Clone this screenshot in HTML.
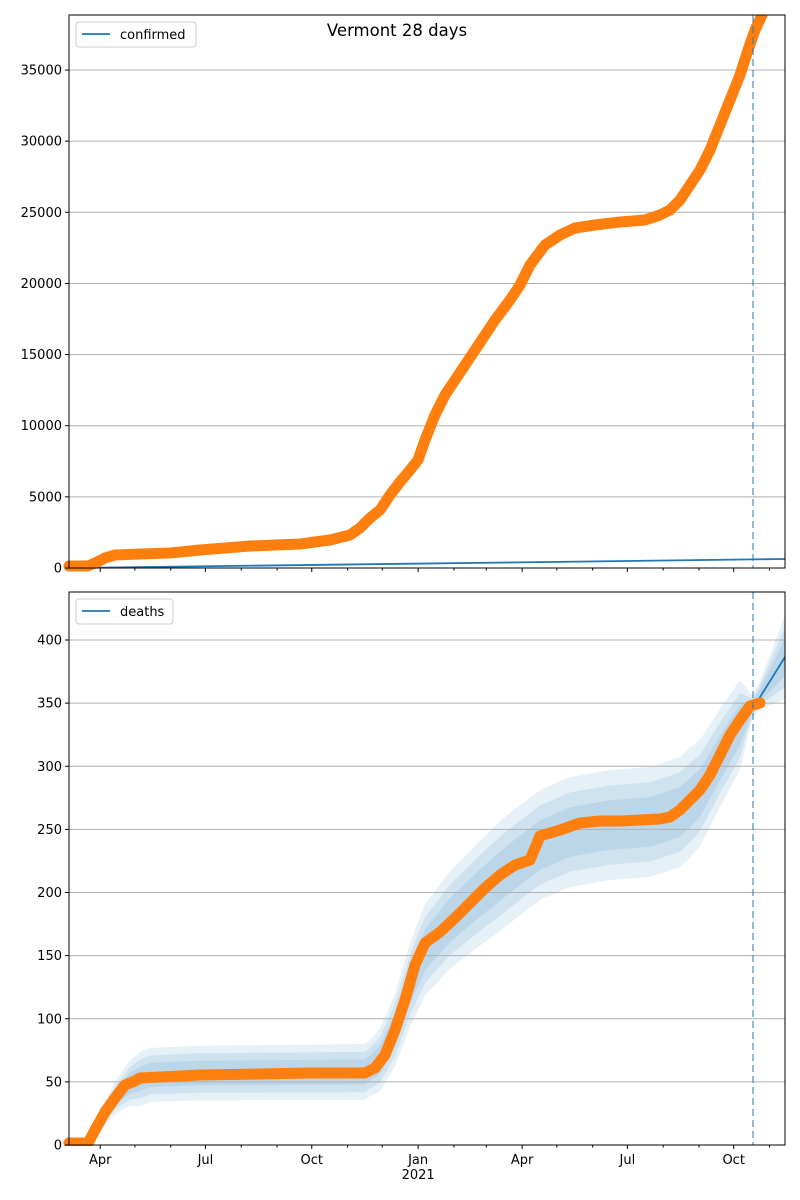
<!DOCTYPE html>
<html><head><meta charset="utf-8"><style>
html,body{margin:0;padding:0;background:#fff;}
svg{display:block;font-family:"DejaVu Sans","Liberation Sans",sans-serif;}
</style></head><body>
<svg id="s" width="800" height="1200" xmlns="http://www.w3.org/2000/svg">
<rect width="800" height="1200" fill="#fff"/>
<g id="g"></g>
<text x="397" y="36" font-size="16.5" text-anchor="middle">Vermont 28 days</text>
</svg>
<script>
const NS="http://www.w3.org/2000/svg";const g=document.getElementById('g');
function el(t,a,txt){const e=document.createElementNS(NS,t);for(const k in a)e.setAttribute(k,a[k]);if(txt!==undefined)e.textContent=txt;g.appendChild(e);return e;}
const L=69,R=785;
const d0=Date.UTC(2020,2,5);const ppd=1.156;
function xd(y,m,d){return L+(Date.UTC(y,m,d)-d0)/864e5*ppd;}
function pts(a){return a.map(p=>p[0]+','+p[1]).join(' ');}
function interp(a,x){for(let i=0;i<a.length-1;i++){if(x>=a[i][0]&&x<=a[i+1][0]){const t=(x-a[i][0])/(a[i+1][0]-a[i][0]);return a[i][1]+t*(a[i+1][1]-a[i][1]);}}return a[a.length-1][1];}
function axes(T,B,ticks){
  ticks.forEach(t=>{el('line',{x1:L,x2:R,y1:t[0],y2:t[0],stroke:'#b0b0b0','stroke-width':1});});
}
function frame(T,B,ticks,showX){
  el('rect',{x:L,y:T,width:R-L,height:B-T,fill:'none',stroke:'#000','stroke-width':1});
  ticks.forEach(t=>{el('line',{x1:L-4,x2:L,y1:t[0],y2:t[0],stroke:'#000'});el('text',{x:L-7,y:t[0]+4.5,'font-size':13,'text-anchor':'end'},t[1]);});
  for(let y=2020;y<=2021;y++)for(let m=0;m<12;m++){const x=xd(y,m,1);if(x<L-0.5||x>R+0.5)continue;
    const major=(m%3==0);el('line',{x1:x,x2:x,y1:B,y2:B+(major?4:2.5),stroke:'#000'});
    if(showX&&major){const nm=['Jan','','','Apr','','','Jul','','','Oct'][m];el('text',{x:x,y:B+19,'font-size':13,'text-anchor':'middle'},nm);if(m==0)el('text',{x:x,y:B+34,'font-size':13,'text-anchor':'middle'},'2021');}}
}
const T1=15,B1=568;
const yt=[];for(let v=0;v<=35000;v+=5000)yt.push([B1-v*0.014228,v]);
axes(T1,B1,yt);
el('line',{x1:L,y1:568,x2:R,y2:559,stroke:'#1f77b4','stroke-width':1.8});
const conf=[[69,566],[88,566],[95,563],[105,558],[115,555],[140,554],[170,553],[200,550],[250,546],[300,544],[330,540],[350,535],[360,528],[370,518],[380,510],[390,495],[400,482],[410,470],[418,460],[425,440],[435,415],[445,395],[455,380],[465,365],[475,350],[485,335],[495,320],[510,300],[520,285],[530,265],[545,245],[560,235],[575,228],[595,225],[620,222],[645,220],[660,215],[670,210],[680,200],[690,185],[700,170],[710,150],[720,125],[730,100],[740,75],[748,50],[755,30],[762,15]];
el('polyline',{points:pts(conf),fill:'none',stroke:'#ff7f0e','stroke-width':11,'stroke-linejoin':'round','stroke-linecap':'round'});
el('line',{x1:753,x2:753,y1:T1,y2:B1,stroke:'#1f77b4','stroke-opacity':0.55,'stroke-width':1.8,'stroke-dasharray':'7,4'});
el('rect',{x:L-5,y:0,width:R-L+15,height:T1,fill:'#fff'});
frame(T1,B1,yt,false);
el('rect',{x:76,y:22,width:120,height:25,fill:'#fff',stroke:'#ccc',rx:3});
el('line',{x1:82,x2:110,y1:34,y2:34,stroke:'#1f77b4','stroke-width':1.8});
el('text',{x:120,y:39,'font-size':13},'confirmed');
const T2=592,B2=1145;const sc=505/400;
const yt2=[];for(let v=0;v<=400;v+=50)yt2.push([B2-v*sc,v]);
const death=[[69,1143],[88,1143],[95,1130],[105,1112],[115,1098],[125,1085],[135,1081],[140,1078],[160,1077],[200,1075],[260,1074],[310,1073],[365,1073],[375,1068],[385,1055],[395,1030],[405,1000],[415,965],[425,943],[440,932],[455,918],[470,903],[485,888],[500,875],[515,865],[530,860],[540,836],[560,830],[580,823],[600,821],[620,821],[640,820],[660,819],[670,817],[680,810],[690,800],[700,790],[710,775],[720,755],[730,735],[740,720],[750,706],[760,703]];
const center=[[69,1145],[88,1143],[100,1122],[115,1098],[130,1083],[150,1075],[200,1073],[365,1072],[380,1060],[395,1030],[410,985],[425,950],[450,920],[480,893],[510,868],[540,845],[570,832],[610,825],[650,822],[680,812],[700,793],[720,758],[740,725],[753,706],[785,657]];
const wtab=[[69,2],[88,4],[140,27],[370,28],[420,45],[500,55],[690,55],[740,45],[752,12],[760,14],[785,42]];
const xs=[];for(let x=L;x<=R;x+=2)xs.push(x);
[1,0.72,0.45].forEach(k=>{const up=xs.map(x=>[x,Math.min(B2,interp(center,x)-k*interp(wtab,x))]);const dn=xs.map(x=>[x,Math.min(B2,interp(center,x)+k*interp(wtab,x))]).reverse();
  el('polygon',{points:pts(up.concat(dn)),fill:'#1f77b4','fill-opacity':0.11});});
axes(T2,B2,yt2);
el('polyline',{points:pts([[752,710],[785,657]]),fill:'none',stroke:'#1f77b4','stroke-width':1.8});
el('polyline',{points:pts(death),fill:'none',stroke:'#ff7f0e','stroke-width':11,'stroke-linejoin':'round','stroke-linecap':'round'});
el('line',{x1:753,x2:753,y1:T2,y2:B2,stroke:'#1f77b4','stroke-opacity':0.55,'stroke-width':1.8,'stroke-dasharray':'7,4'});
el('rect',{x:L-8,y:B2+1,width:R-L+16,height:8,fill:'#fff'});
el('rect',{x:R+1,y:T2-2,width:14,height:B2-T2+4,fill:'#fff'});
frame(T2,B2,yt2,true);
el('rect',{x:76,y:599,width:97,height:25,fill:'#fff',stroke:'#ccc',rx:3});
el('line',{x1:82,x2:110,y1:611,y2:611,stroke:'#1f77b4','stroke-width':1.8});
el('text',{x:120,y:616,'font-size':13},'deaths');
</script>
</body></html>
